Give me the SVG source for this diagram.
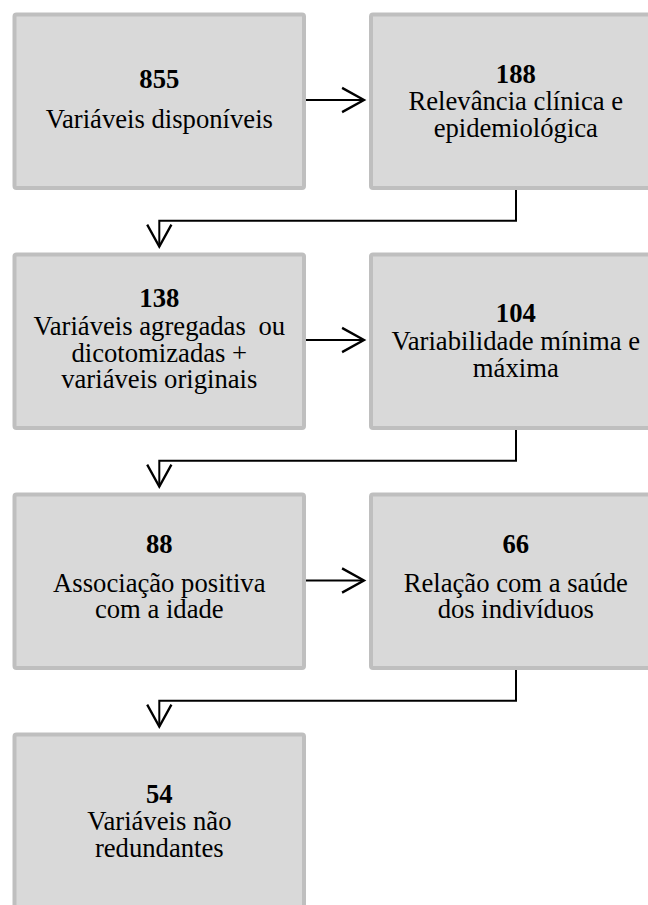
<svg xmlns="http://www.w3.org/2000/svg" width="648" height="905" viewBox="0 0 648 905">
<style>
.box{fill:#d9d9d9;stroke:#bfbfbf;stroke-width:4}
.t{font-family:"Liberation Serif","Times New Roman",serif;font-size:26.67px;fill:#000;text-anchor:middle}
.n{font-weight:bold}
.c{fill:none;stroke:#000;stroke-width:2}
</style>
<defs>
<marker id="ah" markerUnits="userSpaceOnUse" markerWidth="30" markerHeight="30" viewBox="-22 -13 26 26" refX="0" refY="0" orient="auto">
<path d="M-19,-10.5 L0,0 L-19,10.5" fill="none" stroke="#000" stroke-width="2"/>
</marker>
</defs>
<rect width="648" height="905" fill="#fff"/>
<g id="n855">
<rect class="box" x="14.5" y="14.5" width="289.5" height="173.5" rx="2"/>
<text class="t n" x="159.3" y="88.3">855</text>
<text class="t" x="159.3" y="128.3">Variáveis disponíveis</text>
</g>
<g id="n188">
<rect class="box" x="371" y="14.5" width="289.5" height="173.5" rx="2"/>
<text class="t n" x="515.8" y="82.7">188</text>
<text class="t" x="515.8" y="110">Relevância clínica e</text>
<text class="t" x="515.8" y="136.5">epidemiológica</text>
</g>
<g id="n138">
<rect class="box" x="14.5" y="254.5" width="289.5" height="173.5" rx="2"/>
<text class="t n" x="159.3" y="307.3">138</text>
<text class="t" x="159.3" y="335">Variáveis agregadas<tspan dx="6"> ou</tspan></text>
<text class="t" x="159.3" y="361.7">dicotomizadas +</text>
<text class="t" x="159.3" y="388.3">variáveis originais</text>
</g>
<g id="n104">
<rect class="box" x="371" y="254.5" width="289.5" height="173.5" rx="2"/>
<text class="t n" x="515.8" y="321.7">104</text>
<text class="t" x="515.8" y="350">Variabilidade mínima e</text>
<text class="t" x="515.8" y="376.5">máxima</text>
</g>
<g id="n88">
<rect class="box" x="14.5" y="494.5" width="289.5" height="173.5" rx="2"/>
<text class="t n" x="159.3" y="553.3">88</text>
<text class="t" x="159.3" y="591.7">Associação positiva</text>
<text class="t" x="159.3" y="618.3">com a idade</text>
</g>
<g id="n66">
<rect class="box" x="371" y="494.5" width="289.5" height="173.5" rx="2"/>
<text class="t n" x="515.8" y="553.3">66</text>
<text class="t" x="515.8" y="591.7">Relação com a saúde</text>
<text class="t" x="515.8" y="618.3">dos indivíduos</text>
</g>
<g id="n54">
<rect class="box" x="14.5" y="734.5" width="289.5" height="173.5" rx="2"/>
<text class="t n" x="159.3" y="802.7">54</text>
<text class="t" x="159.3" y="830">Variáveis não</text>
<text class="t" x="159.3" y="856.7">redundantes</text>
</g>
<g id="connectors">
<path class="c" d="M306,100 H364" marker-end="url(#ah)"/>
<path class="c" d="M306,340 H364" marker-end="url(#ah)"/>
<path class="c" d="M306,580.5 H364" marker-end="url(#ah)"/>
<path class="c" d="M516,190 V220.7 H159.3 V246.5" marker-end="url(#ah)"/>
<path class="c" d="M516,430 V460.7 H159.3 V486.5" marker-end="url(#ah)"/>
<path class="c" d="M516,670 V700.7 H159.3 V726.5" marker-end="url(#ah)"/>
</g>
</svg>
